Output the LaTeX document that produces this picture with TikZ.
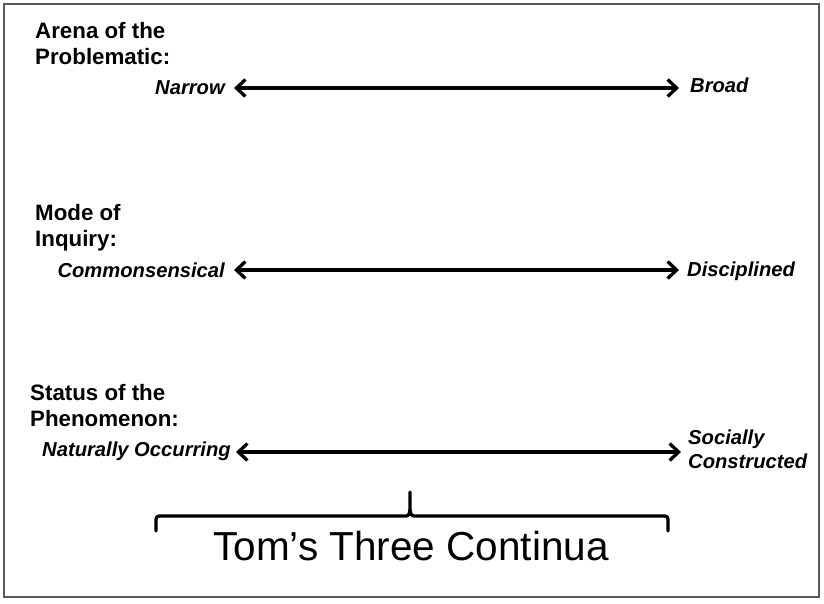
\documentclass[tikz,border=0pt]{standalone}
\usepackage{fontspec}
\setmainfont{Liberation Sans}
\usetikzlibrary{arrows.meta}
\begin{document}
\begin{tikzpicture}[x=1pt,y=-1pt,
  heading/.style={font=\fontsize{22.3}{26}\selectfont\bfseries, align=left, inner sep=0pt, anchor=north west},
  pole/.style={font=\fontsize{20.2}{24}\selectfont\bfseries\itshape, align=left, inner sep=0pt},
  continuum/.style={line width=3.3pt, {Straight Barb[length=9pt,width=17pt]}-{Straight Barb[length=9pt,width=17pt]}},
  bracestyle/.style={line width=3.3pt, line cap=round, line join=round}]
\useasboundingbox (0,0) rectangle (824,603);
\draw[line width=2.2pt, draw=black!65] (4,4) rectangle (819,597);

% Row 1
\node[heading] (h1) at (35,22) {Arena of the\\Problematic:};
\node[pole, anchor=east] (l1) at (225,87.5) {Narrow};
\node[pole, anchor=west] (r1) at (690,85.5) {Broad};
\coordinate (a1) at (234,88);
\coordinate (b1) at (679,88);
\draw[continuum] (a1) -- (b1);

% Row 2
\node[heading] (h2) at (35,204) {Mode of\\Inquiry:};
\node[pole, anchor=east] (l2) at (225,270.5) {Commonsensical};
\node[pole, anchor=west] (r2) at (687,271.5) {Disciplined};
\coordinate (a2) at (234,270);
\coordinate (b2) at (679,270);
\draw[continuum] (a2) -- (b2);

% Row 3
\node[heading] (h3) at (30,384) {Status of the\\Phenomenon:};
\node[pole, anchor=east] (l3) at (231,451.5) {Naturally Occurring};
\node[pole, anchor=west] (r3) at (688,449) {Socially\\Constructed};
\coordinate (a3) at (236,452);
\coordinate (b3) at (681,452);
\draw[continuum] (a3) -- (b3);

% Brace
\coordinate (bl) at (156,531);
\coordinate (br) at (668,531);
\coordinate (bt) at (410,492);
\draw[bracestyle] (bl) -- (156,523) .. controls (156,516) .. (163,516) -- (403,516) .. controls (409,516) .. (410,509) -- (bt)
  (410,509) .. controls (411,516) .. (417,516) -- (661,516) .. controls (668,516) .. (668,523) -- (br);
\node[font=\fontsize{40.5}{48}\selectfont, inner sep=0pt] (title) at (411,546) {Tom’s Three Continua};
\end{tikzpicture}
\end{document}
